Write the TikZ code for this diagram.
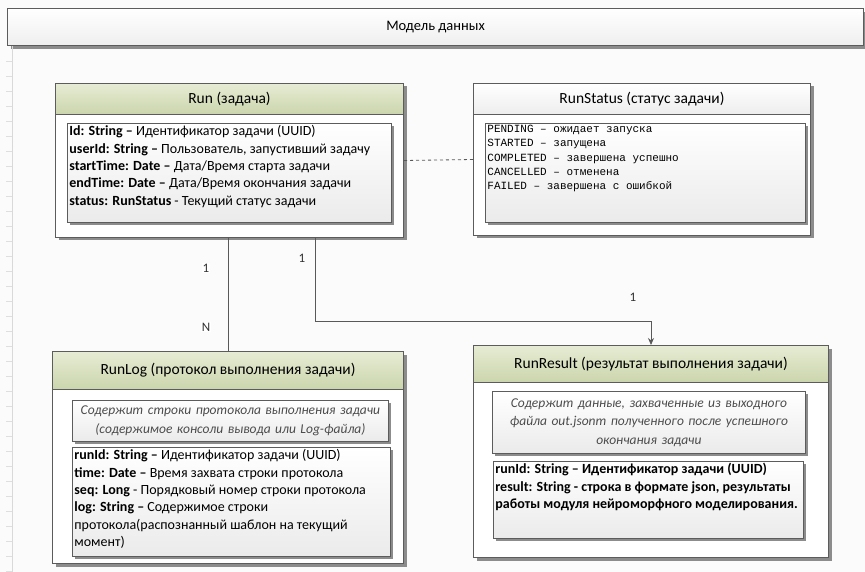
\documentclass[tikz,border=0pt]{standalone}
\usepackage{fontspec}
\setmainfont{Carlito}
\newfontfamily\courfont{Liberation Mono}
\usetikzlibrary{arrows.meta,shadows,positioning}

\definecolor{lineclr}{HTML}{5C5C5C}
\definecolor{greentop}{HTML}{E6ECD4}
\definecolor{greenbot}{HTML}{CBD5AC}
\definecolor{shadowclr}{HTML}{8C8C8C}
\definecolor{pageclr}{HTML}{FBFBFB}

\tikzset{
  boxshadow/.style={drop shadow={shadow xshift=3pt,shadow yshift=-3pt,opacity=1,fill=shadowclr}},
  classbox/.style={draw=lineclr,line width=1pt,fill=white,anchor=north west,inner sep=0pt,boxshadow},
  headbox/.style={draw=lineclr,line width=1pt,anchor=north west,inner sep=0pt,
    font=\fontsize{15.5}{17}\selectfont},
  greenhead/.style={top color=greentop,bottom color=greenbot},
  greyhead/.style={top color=white,bottom color=gray!14},
  attrbox/.style={draw=lineclr,line width=.8pt,anchor=north west,inner sep=2pt,
    top color=white,bottom color=gray!16,boxshadow,font=\fontsize{14}{17.4}\selectfont},
  notebox/.style={draw=lineclr,line width=.8pt,anchor=north west,inner sep=2pt,
    top color=white,bottom color=gray!16,boxshadow,align=center,text=black!70,
    font=\fontsize{13.5}{18.5}\selectfont\itshape},
  card/.style={font=\fontsize{13}{15}\selectfont,text=black!80,inner sep=1pt},
  conn/.style={draw=black!65,line width=.8pt},
}

\begin{document}
\begin{tikzpicture}[x=1pt,y=-1pt]
  \fill[pageclr] (0,0) rectangle (865,572);
  \useasboundingbox (0,0) rectangle (865,572);

  % title bar and ruler
  \node[classbox,line width=1.2pt,top color=white,bottom color=gray!13,
    minimum width=856,minimum height=37,font=\fontsize{14.5}{16}\selectfont]
    (model) at (7,8) {Модель данных};
  \draw[gray!30,line width=1pt] (12,46) -- (12,572);
  \foreach \y in {61,76,...,571}
    \draw[gray!25] (6,\y) -- (12,\y);

  % Run
  \node[classbox,minimum width=348,minimum height=154] (run) at (55,83) {};
  \node[headbox,greenhead,minimum width=348,minimum height=31] (runhead) at (55,83) {Run (задача)};
  \node[attrbox] (runattr) at (67,123) {\parbox[t][95pt][t]{320pt}{\raggedright
    \textbf{Id: String –} Идентификатор задачи (UUID)\\
    \textbf{userId: String –} Пользователь, запустивший задачу\\
    \textbf{startTime: Date –} Дата/Время старта задачи\\
    \textbf{endTime: Date –} Дата/Время окончания задачи\\
    \textbf{status: RunStatus} - Текущий статус задачи}};

  % RunStatus
  \node[classbox,minimum width=337,minimum height=152] (runstatus) at (473,83) {};
  \node[headbox,greyhead,minimum width=337,minimum height=31] (statushead) at (473,83) {RunStatus (статус задачи)};
  \node[attrbox,font=\fontsize{11}{14.2}\selectfont\courfont] (statusvals) at (485,123)
    {\parbox[t][95pt][t]{316pt}{\raggedright
    PENDING – ожидает запуска\\
    STARTED – запущена\\
    COMPLETED – завершена успешно\\
    CANCELLED – отменена\\
    FAILED – завершена с ошибкой}};

  % RunLog
  \node[classbox,minimum width=351,minimum height=212] (runlog) at (52,351) {};
  \node[headbox,greenhead,minimum width=351,minimum height=38] (loghead) at (52,351) {RunLog (протокол выполнения задачи)};
  \node[notebox,text width=312,minimum height=41] (lognote) at (72,400)
    {Содержит строки протокола выполнения задачи\\(содержимое консоли вывода или Log-файла)};
  \node[attrbox] (logattr) at (72,447) {\parbox[t][105pt][t]{314pt}{\raggedright
    \textbf{runId: String –} Идентификатор задачи (UUID)\\
    \textbf{time: Date –} Время захвата строки протокола\\
    \textbf{seq: Long} - Порядковый номер строки протокола\\
    \textbf{log: String –} Содержимое строки\\
    протокола(распознанный шаблон на текущий\\
    момент)}};

  % RunResult
  \node[classbox,minimum width=355,minimum height=212] (runresult) at (473,345) {};
  \node[headbox,greenhead,minimum width=355,minimum height=37] (resulthead) at (473,345) {RunResult (результат выполнения задачи)};
  \node[notebox,text width=309,minimum height=62] (resultnote) at (492,391)
    {Содержит данные, захваченные из выходного\\файла out.jsonm полученного после успешного\\окончания задачи};
  \node[attrbox,font=\fontsize{14}{17.4}\selectfont\bfseries] (resultattr) at (493,461)
    {\parbox[t][73pt][t]{306pt}{\raggedright
    runId: String – Идентификатор задачи (UUID)\\
    result: String - строка в формате json, результаты\\
    работы модуля нейроморфного моделирования.}};

  % connectors
  \draw[conn,dash pattern=on 3pt off 3pt] (run.east) -- (runstatus.west);
  \draw[conn] (runlog.north) -- (runlog.north |- run.south);
  \draw[conn,-{Stealth[length=7pt,width=6pt]}] ([xshift=86pt]run.south) -- ++(0,83) -| (runresult.north);

  % multiplicities
  \node[card,fill=white] (mrun) at (206,268) {1};
  \node[card,fill=white] (mlog) at (206,327) {N};
  \node[card] (mrunout) at (302,258) {1};
  \node[card] (mresult) at (633,297) {1};
\end{tikzpicture}
\end{document}
